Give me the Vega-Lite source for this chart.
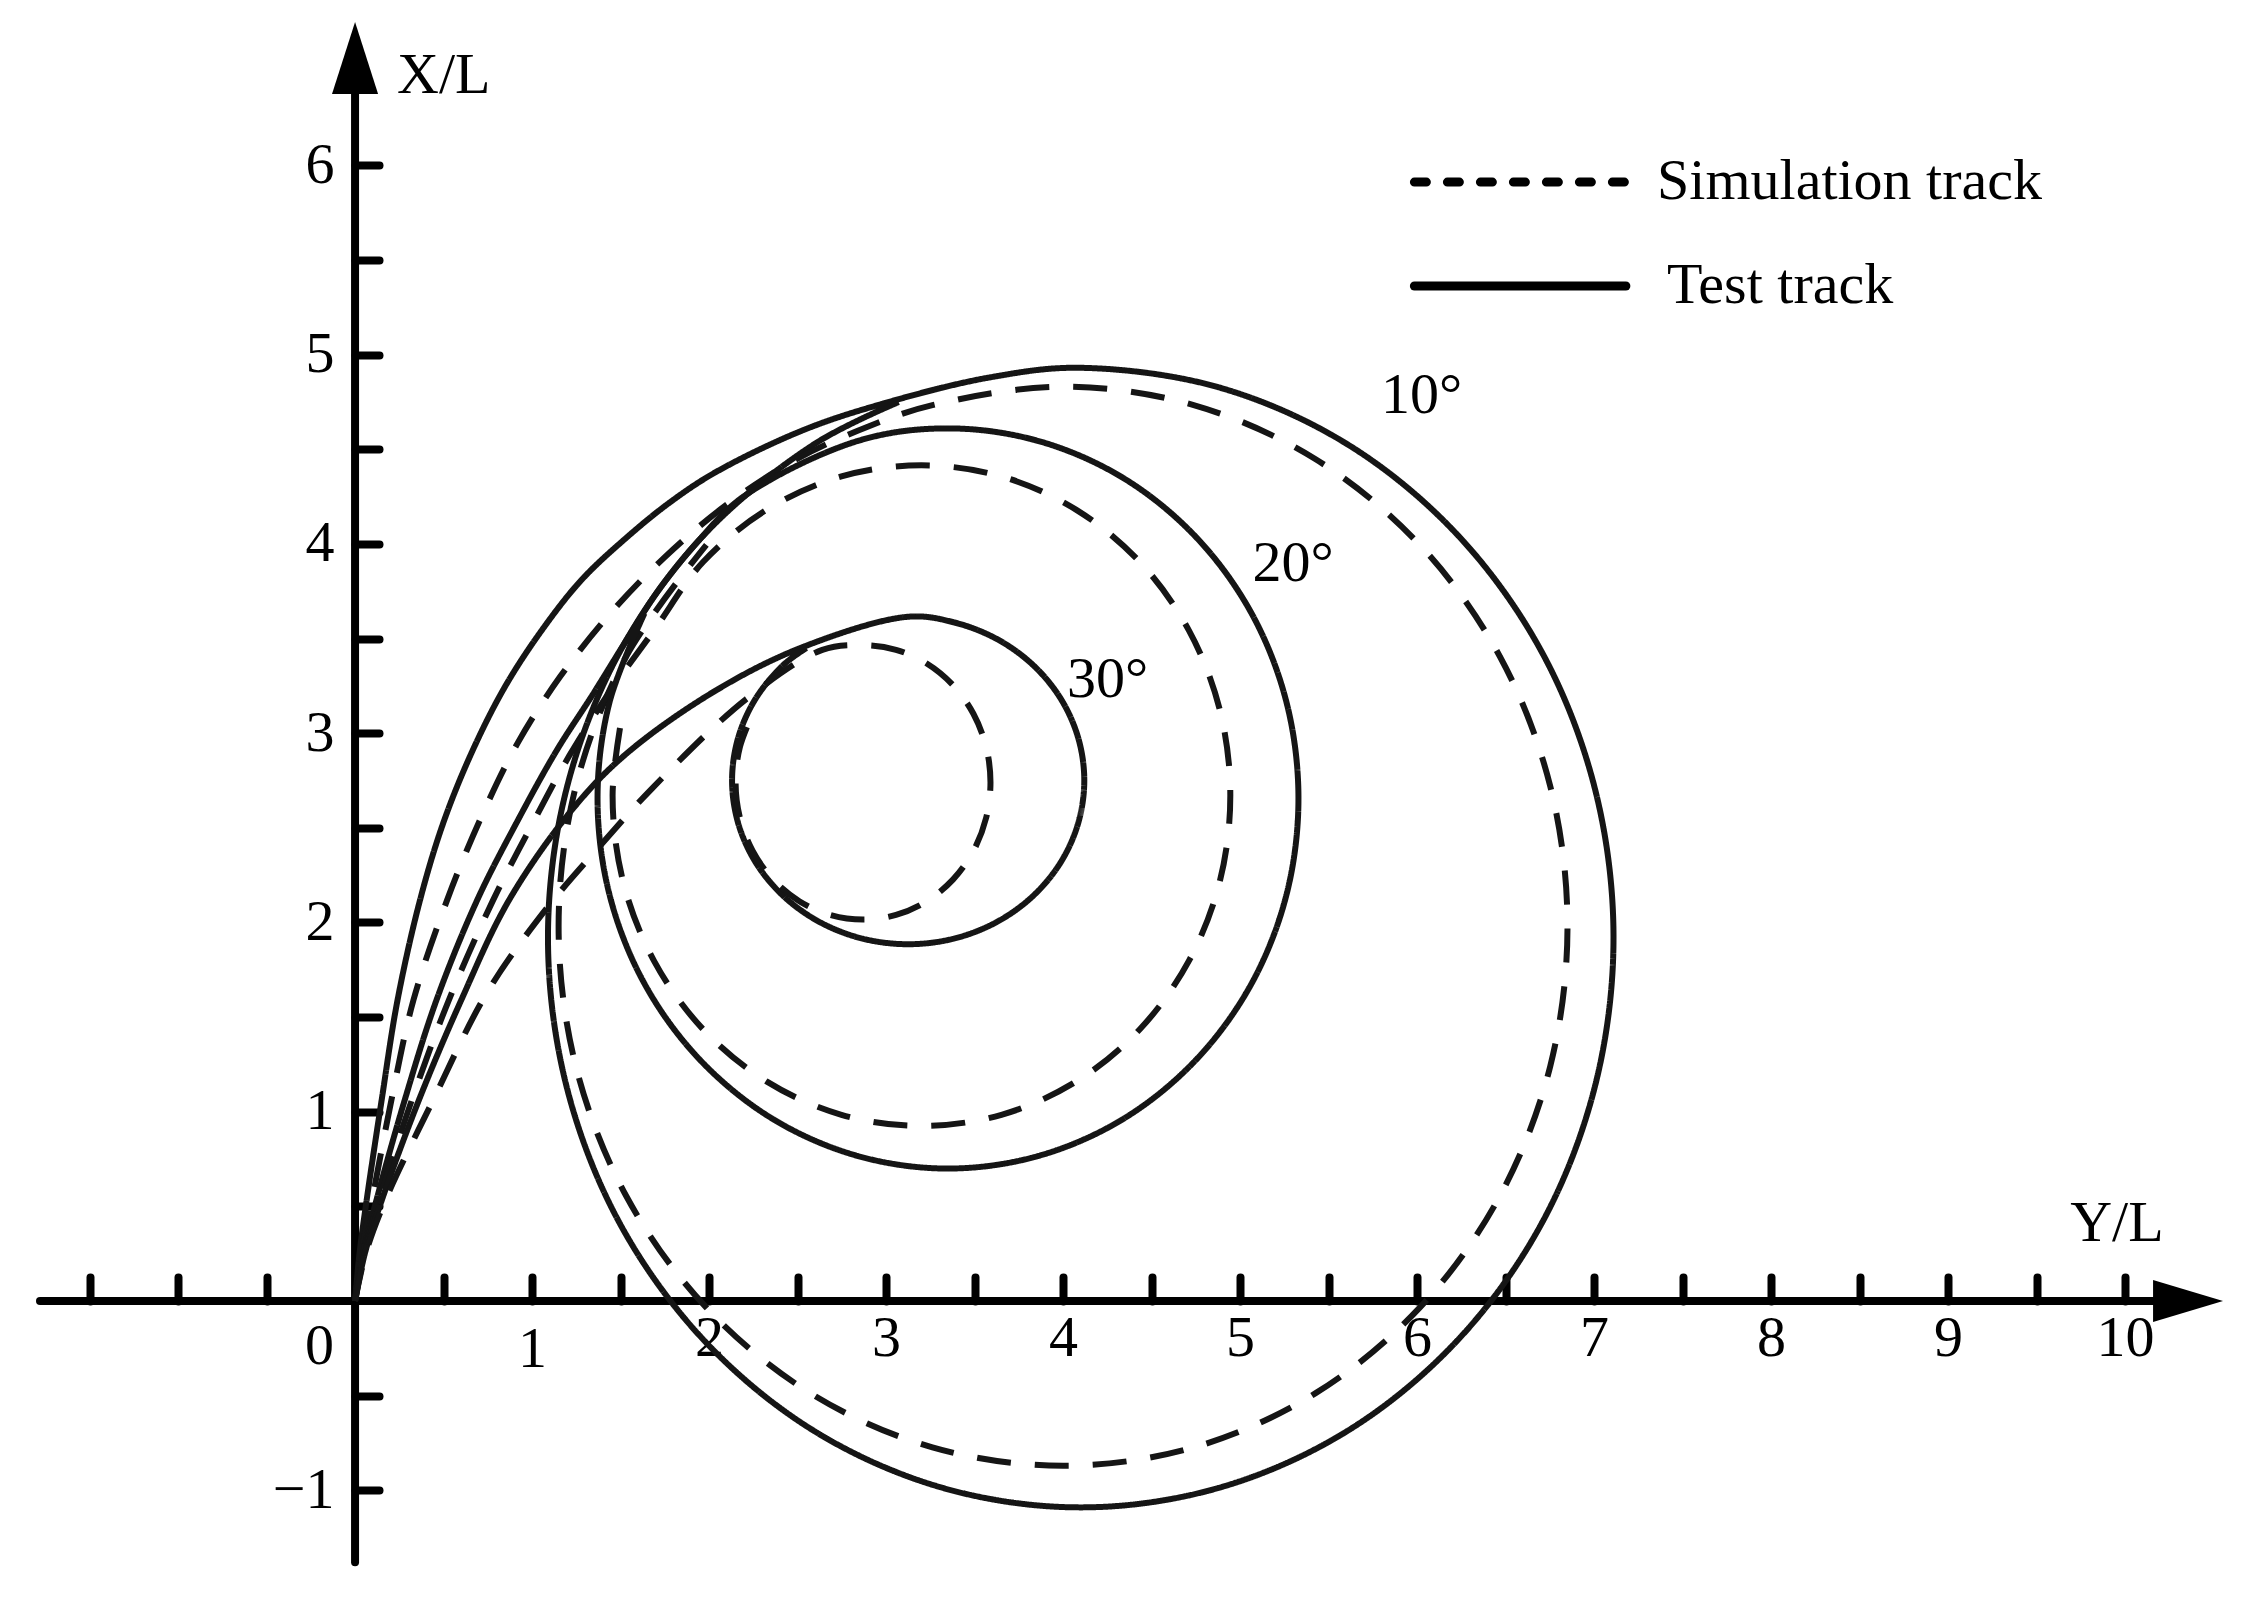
{
"$schema": "https://vega.github.io/schema/vega-lite/v6.json",
"width": 2253, "height": 1599, "padding": 0, "autosize": {"type": "none"},
"background": "white",
"config": {"view": {"stroke": null}, "font": "Liberation Serif"},
"datasets": {"tracks": [
{"g":"10T","track":"Test track","i":0,"x":0,"y":0},{"g":"10T","track":"Test track","i":1,"x":0.025,"y":0.25},{"g":"10T","track":"Test track","i":2,"x":0.065,"y":0.53},{"g":"10T","track":"Test track","i":3,"x":0.15,"y":1.06},{"g":"10T","track":"Test track","i":4,"x":0.24,"y":1.59},{"g":"10T","track":"Test track","i":5,"x":0.367,"y":2.118},{"g":"10T","track":"Test track","i":6,"x":0.5,"y":2.53},{"g":"10T","track":"Test track","i":7,"x":0.665,"y":2.91},{"g":"10T","track":"Test track","i":8,"x":0.85,"y":3.25},{"g":"10T","track":"Test track","i":9,"x":1.06,"y":3.55},{"g":"10T","track":"Test track","i":10,"x":1.28,"y":3.81},{"g":"10T","track":"Test track","i":11,"x":1.53,"y":4.03},{"g":"10T","track":"Test track","i":12,"x":1.78,"y":4.22},{"g":"10T","track":"Test track","i":13,"x":2.04,"y":4.38},{"g":"10T","track":"Test track","i":14,"x":2.53,"y":4.6},{"g":"10T","track":"Test track","i":15,"x":2.98,"y":4.74},{"g":"10T","track":"Test track","i":16,"x":3.59,"y":4.88},{"g":"10T","track":"Test track","i":17,"x":4.1,"y":4.93},{"g":"10T","track":"Test track","i":18,"x":4.879,"y":4.827},{"g":"10T","track":"Test track","i":19,"x":5.605,"y":4.527},{"g":"10T","track":"Test track","i":20,"x":6.228,"y":4.048},{"g":"10T","track":"Test track","i":21,"x":6.707,"y":3.425},{"g":"10T","track":"Test track","i":22,"x":7.007,"y":2.699},{"g":"10T","track":"Test track","i":23,"x":7.11,"y":1.92},{"g":"10T","track":"Test track","i":24,"x":7.007,"y":1.141},{"g":"10T","track":"Test track","i":25,"x":6.707,"y":0.415},{"g":"10T","track":"Test track","i":26,"x":6.228,"y":-0.208},{"g":"10T","track":"Test track","i":27,"x":5.605,"y":-0.687},{"g":"10T","track":"Test track","i":28,"x":4.879,"y":-0.987},{"g":"10T","track":"Test track","i":29,"x":4.1,"y":-1.09},{"g":"10T","track":"Test track","i":30,"x":3.321,"y":-0.987},{"g":"10T","track":"Test track","i":31,"x":2.595,"y":-0.687},{"g":"10T","track":"Test track","i":32,"x":1.972,"y":-0.208},{"g":"10T","track":"Test track","i":33,"x":1.493,"y":0.415},{"g":"10T","track":"Test track","i":34,"x":1.193,"y":1.141},{"g":"10T","track":"Test track","i":35,"x":1.09,"y":1.92},{"g":"10T","track":"Test track","i":36,"x":1.193,"y":2.699},{"g":"10T","track":"Test track","i":37,"x":1.493,"y":3.425},{"g":"10T","track":"Test track","i":38,"x":1.972,"y":4.048},{"g":"10T","track":"Test track","i":39,"x":2.595,"y":4.527},{"g":"10T","track":"Test track","i":40,"x":3.071,"y":4.749},
{"g":"10S","track":"Simulation track","i":0,"x":0,"y":0},{"g":"10S","track":"Simulation track","i":1,"x":0.035,"y":0.25},{"g":"10S","track":"Simulation track","i":2,"x":0.095,"y":0.53},{"g":"10S","track":"Simulation track","i":3,"x":0.205,"y":1.06},{"g":"10S","track":"Simulation track","i":4,"x":0.33,"y":1.59},{"g":"10S","track":"Simulation track","i":5,"x":0.52,"y":2.118},{"g":"10S","track":"Simulation track","i":6,"x":0.71,"y":2.55},{"g":"10S","track":"Simulation track","i":7,"x":0.92,"y":2.95},{"g":"10S","track":"Simulation track","i":8,"x":1.16,"y":3.3},{"g":"10S","track":"Simulation track","i":9,"x":1.44,"y":3.63},{"g":"10S","track":"Simulation track","i":10,"x":1.75,"y":3.93},{"g":"10S","track":"Simulation track","i":11,"x":2.09,"y":4.2},{"g":"10S","track":"Simulation track","i":12,"x":2.5,"y":4.45},{"g":"10S","track":"Simulation track","i":13,"x":2.9,"y":4.62},{"g":"10S","track":"Simulation track","i":14,"x":3.262,"y":4.733},{"g":"10S","track":"Simulation track","i":15,"x":4.0,"y":4.83},{"g":"10S","track":"Simulation track","i":16,"x":4.738,"y":4.733},{"g":"10S","track":"Simulation track","i":17,"x":5.425,"y":4.448},{"g":"10S","track":"Simulation track","i":18,"x":6.015,"y":3.995},{"g":"10S","track":"Simulation track","i":19,"x":6.468,"y":3.405},{"g":"10S","track":"Simulation track","i":20,"x":6.753,"y":2.718},{"g":"10S","track":"Simulation track","i":21,"x":6.85,"y":1.98},{"g":"10S","track":"Simulation track","i":22,"x":6.753,"y":1.242},{"g":"10S","track":"Simulation track","i":23,"x":6.468,"y":0.555},{"g":"10S","track":"Simulation track","i":24,"x":6.015,"y":-0.035},{"g":"10S","track":"Simulation track","i":25,"x":5.425,"y":-0.488},{"g":"10S","track":"Simulation track","i":26,"x":4.738,"y":-0.773},{"g":"10S","track":"Simulation track","i":27,"x":4.0,"y":-0.87},{"g":"10S","track":"Simulation track","i":28,"x":3.262,"y":-0.773},{"g":"10S","track":"Simulation track","i":29,"x":2.575,"y":-0.488},{"g":"10S","track":"Simulation track","i":30,"x":1.985,"y":-0.035},{"g":"10S","track":"Simulation track","i":31,"x":1.532,"y":0.555},{"g":"10S","track":"Simulation track","i":32,"x":1.247,"y":1.242},{"g":"10S","track":"Simulation track","i":33,"x":1.15,"y":1.98},{"g":"10S","track":"Simulation track","i":34,"x":1.247,"y":2.718},{"g":"10S","track":"Simulation track","i":35,"x":1.532,"y":3.405},{"g":"10S","track":"Simulation track","i":36,"x":1.985,"y":3.995},
{"g":"20T","track":"Test track","i":0,"x":0,"y":0},{"g":"20T","track":"Test track","i":1,"x":0.045,"y":0.25},{"g":"20T","track":"Test track","i":2,"x":0.12,"y":0.53},{"g":"20T","track":"Test track","i":3,"x":0.28,"y":1.06},{"g":"20T","track":"Test track","i":4,"x":0.46,"y":1.59},{"g":"20T","track":"Test track","i":5,"x":0.69,"y":2.118},{"g":"20T","track":"Test track","i":6,"x":0.92,"y":2.54},{"g":"20T","track":"Test track","i":7,"x":1.14,"y":2.91},{"g":"20T","track":"Test track","i":8,"x":1.34,"y":3.2},{"g":"20T","track":"Test track","i":9,"x":1.539,"y":3.5},{"g":"20T","track":"Test track","i":10,"x":1.718,"y":3.76},{"g":"20T","track":"Test track","i":11,"x":1.944,"y":4.02},{"g":"20T","track":"Test track","i":12,"x":2.195,"y":4.25},{"g":"20T","track":"Test track","i":13,"x":2.838,"y":4.543},{"g":"20T","track":"Test track","i":14,"x":3.35,"y":4.61},{"g":"20T","track":"Test track","i":15,"x":3.862,"y":4.543},{"g":"20T","track":"Test track","i":16,"x":4.34,"y":4.348},{"g":"20T","track":"Test track","i":17,"x":4.75,"y":4.037},{"g":"20T","track":"Test track","i":18,"x":5.065,"y":3.633},{"g":"20T","track":"Test track","i":19,"x":5.263,"y":3.161},{"g":"20T","track":"Test track","i":20,"x":5.33,"y":2.655},{"g":"20T","track":"Test track","i":21,"x":5.263,"y":2.149},{"g":"20T","track":"Test track","i":22,"x":5.065,"y":1.677},{"g":"20T","track":"Test track","i":23,"x":4.75,"y":1.273},{"g":"20T","track":"Test track","i":24,"x":4.34,"y":0.962},{"g":"20T","track":"Test track","i":25,"x":3.862,"y":0.767},{"g":"20T","track":"Test track","i":26,"x":3.35,"y":0.7},{"g":"20T","track":"Test track","i":27,"x":2.838,"y":0.767},{"g":"20T","track":"Test track","i":28,"x":2.36,"y":0.962},{"g":"20T","track":"Test track","i":29,"x":1.95,"y":1.273},{"g":"20T","track":"Test track","i":30,"x":1.635,"y":1.677},{"g":"20T","track":"Test track","i":31,"x":1.437,"y":2.149},{"g":"20T","track":"Test track","i":32,"x":1.37,"y":2.655},{"g":"20T","track":"Test track","i":33,"x":1.437,"y":3.161},{"g":"20T","track":"Test track","i":34,"x":1.635,"y":3.633},
{"g":"20S","track":"Simulation track","i":0,"x":0,"y":0},{"g":"20S","track":"Simulation track","i":1,"x":0.05,"y":0.25},{"g":"20S","track":"Simulation track","i":2,"x":0.135,"y":0.53},{"g":"20S","track":"Simulation track","i":3,"x":0.32,"y":1.06},{"g":"20S","track":"Simulation track","i":4,"x":0.53,"y":1.59},{"g":"20S","track":"Simulation track","i":5,"x":0.78,"y":2.118},{"g":"20S","track":"Simulation track","i":6,"x":0.99,"y":2.5},{"g":"20S","track":"Simulation track","i":7,"x":1.21,"y":2.88},{"g":"20S","track":"Simulation track","i":8,"x":1.44,"y":3.22},{"g":"20S","track":"Simulation track","i":9,"x":1.689,"y":3.543},{"g":"20S","track":"Simulation track","i":10,"x":1.966,"y":3.904},{"g":"20S","track":"Simulation track","i":11,"x":2.327,"y":4.181},{"g":"20S","track":"Simulation track","i":12,"x":2.748,"y":4.356},{"g":"20S","track":"Simulation track","i":13,"x":3.2,"y":4.415},{"g":"20S","track":"Simulation track","i":14,"x":3.652,"y":4.356},{"g":"20S","track":"Simulation track","i":15,"x":4.073,"y":4.181},{"g":"20S","track":"Simulation track","i":16,"x":4.434,"y":3.904},{"g":"20S","track":"Simulation track","i":17,"x":4.711,"y":3.543},{"g":"20S","track":"Simulation track","i":18,"x":4.886,"y":3.122},{"g":"20S","track":"Simulation track","i":19,"x":4.945,"y":2.67},{"g":"20S","track":"Simulation track","i":20,"x":4.886,"y":2.218},{"g":"20S","track":"Simulation track","i":21,"x":4.711,"y":1.797},{"g":"20S","track":"Simulation track","i":22,"x":4.434,"y":1.436},{"g":"20S","track":"Simulation track","i":23,"x":4.073,"y":1.159},{"g":"20S","track":"Simulation track","i":24,"x":3.652,"y":0.984},{"g":"20S","track":"Simulation track","i":25,"x":3.2,"y":0.925},{"g":"20S","track":"Simulation track","i":26,"x":2.748,"y":0.984},{"g":"20S","track":"Simulation track","i":27,"x":2.327,"y":1.159},{"g":"20S","track":"Simulation track","i":28,"x":1.966,"y":1.436},{"g":"20S","track":"Simulation track","i":29,"x":1.689,"y":1.797},{"g":"20S","track":"Simulation track","i":30,"x":1.514,"y":2.218},{"g":"20S","track":"Simulation track","i":31,"x":1.455,"y":2.67},{"g":"20S","track":"Simulation track","i":32,"x":1.514,"y":3.122},
{"g":"30T","track":"Test track","i":0,"x":0,"y":0},{"g":"30T","track":"Test track","i":1,"x":0.055,"y":0.25},{"g":"30T","track":"Test track","i":2,"x":0.15,"y":0.53},{"g":"30T","track":"Test track","i":3,"x":0.36,"y":1.06},{"g":"30T","track":"Test track","i":4,"x":0.6,"y":1.59},{"g":"30T","track":"Test track","i":5,"x":0.87,"y":2.118},{"g":"30T","track":"Test track","i":6,"x":1.23,"y":2.6},{"g":"30T","track":"Test track","i":7,"x":1.535,"y":2.893},{"g":"30T","track":"Test track","i":8,"x":2.043,"y":3.228},{"g":"30T","track":"Test track","i":9,"x":2.533,"y":3.456},{"g":"30T","track":"Test track","i":10,"x":3.125,"y":3.615},{"g":"30T","track":"Test track","i":11,"x":3.3825,"y":3.5855},{"g":"30T","track":"Test track","i":12,"x":3.6225,"y":3.4991},{"g":"30T","track":"Test track","i":13,"x":3.8286,"y":3.3616},{"g":"30T","track":"Test track","i":14,"x":3.9867,"y":3.1825},{"g":"30T","track":"Test track","i":15,"x":4.086,"y":2.9739},{"g":"30T","track":"Test track","i":16,"x":4.12,"y":2.75},{"g":"30T","track":"Test track","i":17,"x":4.086,"y":2.5261},{"g":"30T","track":"Test track","i":18,"x":3.9867,"y":2.3175},{"g":"30T","track":"Test track","i":19,"x":3.8286,"y":2.1384},{"g":"30T","track":"Test track","i":20,"x":3.6225,"y":2.0009},{"g":"30T","track":"Test track","i":21,"x":3.3825,"y":1.9145},{"g":"30T","track":"Test track","i":22,"x":3.125,"y":1.885},{"g":"30T","track":"Test track","i":23,"x":2.8675,"y":1.9145},{"g":"30T","track":"Test track","i":24,"x":2.6275,"y":2.0009},{"g":"30T","track":"Test track","i":25,"x":2.4214,"y":2.1384},{"g":"30T","track":"Test track","i":26,"x":2.2633,"y":2.3175},{"g":"30T","track":"Test track","i":27,"x":2.164,"y":2.5261},{"g":"30T","track":"Test track","i":28,"x":2.13,"y":2.75},{"g":"30T","track":"Test track","i":29,"x":2.164,"y":2.9739},{"g":"30T","track":"Test track","i":30,"x":2.2633,"y":3.1825},{"g":"30T","track":"Test track","i":31,"x":2.4214,"y":3.3616},{"g":"30T","track":"Test track","i":32,"x":2.55,"y":3.45},
{"g":"30S","track":"Simulation track","i":0,"x":0,"y":0},{"g":"30S","track":"Simulation track","i":1,"x":0.06,"y":0.25},{"g":"30S","track":"Simulation track","i":2,"x":0.17,"y":0.53},{"g":"30S","track":"Simulation track","i":3,"x":0.44,"y":1.06},{"g":"30S","track":"Simulation track","i":4,"x":0.744,"y":1.627},{"g":"30S","track":"Simulation track","i":5,"x":1.07,"y":2.06},{"g":"30S","track":"Simulation track","i":6,"x":1.38,"y":2.4},{"g":"30S","track":"Simulation track","i":7,"x":1.68,"y":2.71},{"g":"30S","track":"Simulation track","i":8,"x":2.21,"y":3.18},{"g":"30S","track":"Simulation track","i":9,"x":2.64,"y":3.44},{"g":"30S","track":"Simulation track","i":10,"x":2.87,"y":3.465},{"g":"30S","track":"Simulation track","i":11,"x":3.0563,"y":3.4403},{"g":"30S","track":"Simulation track","i":12,"x":3.23,"y":3.3679},{"g":"30S","track":"Simulation track","i":13,"x":3.3791,"y":3.2526},{"g":"30S","track":"Simulation track","i":14,"x":3.4935,"y":3.1025},{"g":"30S","track":"Simulation track","i":15,"x":3.5654,"y":2.9276},{"g":"30S","track":"Simulation track","i":16,"x":3.59,"y":2.74},{"g":"30S","track":"Simulation track","i":17,"x":3.5654,"y":2.5524},{"g":"30S","track":"Simulation track","i":18,"x":3.4935,"y":2.3775},{"g":"30S","track":"Simulation track","i":19,"x":3.3791,"y":2.2274},{"g":"30S","track":"Simulation track","i":20,"x":3.23,"y":2.1121},{"g":"30S","track":"Simulation track","i":21,"x":3.0563,"y":2.0397},{"g":"30S","track":"Simulation track","i":22,"x":2.87,"y":2.015},{"g":"30S","track":"Simulation track","i":23,"x":2.6837,"y":2.0397},{"g":"30S","track":"Simulation track","i":24,"x":2.51,"y":2.1121},{"g":"30S","track":"Simulation track","i":25,"x":2.3609,"y":2.2274},{"g":"30S","track":"Simulation track","i":26,"x":2.2465,"y":2.3775},{"g":"30S","track":"Simulation track","i":27,"x":2.1746,"y":2.5524},{"g":"30S","track":"Simulation track","i":28,"x":2.15,"y":2.74},{"g":"30S","track":"Simulation track","i":29,"x":2.1746,"y":2.9276},{"g":"30S","track":"Simulation track","i":30,"x":2.2465,"y":3.1025}
]},
"resolve": {"axis": {"x": "independent", "y": "independent"}},
"layer": [
{"data": {"values": [{}]},
 "mark": {"type": "rule", "strokeWidth": 8, "color": "black", "strokeCap": "round"},
 "encoding": {
  "x": {"datum": -1.78, "type": "quantitative", "scale": {"domain": [-2.006, 10.723], "nice": false, "zero": false},
        "axis": {"orient": "top", "offset": -1301, "domain": false, "labels": false, "grid": false, "ticks": true, "tickSize": 24, "tickWidth": 8, "tickColor": "black", "tickCap": "round", "title": null,
                 "values": [-1.5,-1,-0.5,0.5,1,1.5,2,2.5,3,3.5,4,4.5,5,5.5,6,6.5,7,7.5,8,8.5,9,9.5,10]}},
  "x2": {"datum": 10.17},
  "y": {"datum": 0, "type": "quantitative", "scale": {"domain": [-1.574, 6.873], "nice": false, "zero": false},
        "axis": {"orient": "right", "offset": -1898, "domain": false, "labels": false, "grid": false, "ticks": true, "tickSize": 24, "tickWidth": 8, "tickColor": "black", "tickCap": "round", "title": null,
                 "values": [-1,-0.5,0.5,1,1.5,2,2.5,3,3.5,4,4.5,5,5.5,6]}}
 }},
{"data": {"values": [{}]},
 "mark": {"type": "rule", "strokeWidth": 8, "color": "black", "strokeCap": "round"},
 "encoding": {
  "x": {"datum": 0, "type": "quantitative", "scale": {"domain": [-2.006, 10.723], "nice": false, "zero": false},
        "axis": {"orient": "bottom", "offset": -298, "domain": false, "ticks": false, "tickSize": 0, "grid": false, "title": null,
                 "values": [0,1,2,3,4,5,6,7,8,9,10], "labelFontSize": 58, "labelFont": "Liberation Serif", "labelColor": "black", "labelBaseline": "middle",
                 "labelPadding": {"condition": [{"test": "datum.value == 0", "value": 45}, {"test": "datum.value == 1", "value": 48}], "value": 37},
                 "labelOffset": {"condition": {"test": "datum.value == 0", "value": -36}, "value": 0},
                 "labelFlush": false, "labelOverlap": false, "labelBound": false}},
  "y": {"datum": -1.38, "type": "quantitative", "scale": {"domain": [-1.574, 6.873], "nice": false, "zero": false},
        "axis": {"orient": "left", "offset": -355, "domain": false, "ticks": false, "tickSize": 0, "grid": false, "title": null,
                 "values": [-1,1,2,3,4,5,6], "labelFontSize": 58, "labelFont": "Liberation Serif", "labelColor": "black", "labelPadding": 21,
                 "labelFlush": false, "labelOverlap": false, "labelBound": false}},
  "y2": {"datum": 6.38}
 }},
{"data": {"name": "tracks"},
 "mark": {"type": "line", "interpolate": "catmull-rom", "strokeWidth": 6, "color": "#151515"},
 "encoding": {
  "x": {"field": "x", "type": "quantitative", "scale": {"domain": [-2.006, 10.723], "nice": false, "zero": false}, "axis": null},
  "y": {"field": "y", "type": "quantitative", "scale": {"domain": [-1.574, 6.873], "nice": false, "zero": false}, "axis": null},
  "detail": {"field": "g", "type": "nominal"},
  "order": {"field": "i", "type": "quantitative"},
  "strokeDash": {"field": "track", "type": "nominal", "scale": {"domain": ["Simulation track", "Test track"], "range": [[34, 24], [1, 0]]}, "legend": null}
 }},
{"data": {"values": [{}]},
 "mark": {"type": "point", "shape": "M0,-1L0.64,1L-0.64,1Z", "size": 5184, "filled": true, "color": "black", "opacity": 1, "strokeWidth": 0},
 "encoding": {"x": {"datum": 0, "type": "quantitative", "axis": null}, "y": {"datum": 6.566, "type": "quantitative", "axis": null}}},
{"data": {"values": [{}]},
 "mark": {"type": "point", "shape": "M1,0L-1,-0.6L-1,0.6Z", "size": 4900, "filled": true, "color": "black", "opacity": 1, "strokeWidth": 0},
 "encoding": {"x": {"datum": 10.356, "type": "quantitative", "axis": null}, "y": {"datum": 0, "type": "quantitative", "axis": null}}},
{"data": {"values": [{}]},
 "mark": {"type": "rule", "strokeWidth": 9, "color": "black", "strokeCap": "round", "strokeDash": [12, 21]},
 "encoding": {"x": {"datum": 5.985, "type": "quantitative", "axis": null}, "x2": {"datum": 7.18}, "y": {"datum": 5.911, "type": "quantitative", "axis": null}}},
{"data": {"values": [{}]},
 "mark": {"type": "rule", "strokeWidth": 9, "color": "black", "strokeCap": "round"},
 "encoding": {"x": {"datum": 5.985, "type": "quantitative", "axis": null}, "x2": {"datum": 7.18}, "y": {"datum": 5.362, "type": "quantitative", "axis": null}}},
{"data": {"values": [{}]},
 "mark": {"type": "text", "text": "Simulation track", "font": "Liberation Serif", "fontSize": 58, "align": "left", "baseline": "middle", "color": "black"},
 "encoding": {"x": {"datum": 7.356, "type": "quantitative", "axis": null}, "y": {"datum": 5.911, "type": "quantitative", "axis": null}}},
{"data": {"values": [{}]},
 "mark": {"type": "text", "text": "Test track", "font": "Liberation Serif", "fontSize": 58, "align": "left", "baseline": "middle", "color": "black"},
 "encoding": {"x": {"datum": 7.412, "type": "quantitative", "axis": null}, "y": {"datum": 5.362, "type": "quantitative", "axis": null}}},
{"data": {"values": [{}]},
 "mark": {"type": "text", "text": "X/L", "font": "Liberation Serif", "fontSize": 58, "align": "left", "baseline": "middle", "color": "black"},
 "encoding": {"x": {"datum": 0.237, "type": "quantitative", "axis": null}, "y": {"datum": 6.471, "type": "quantitative", "axis": null}}},
{"data": {"values": [{}]},
 "mark": {"type": "text", "text": "Y/L", "font": "Liberation Serif", "fontSize": 58, "align": "left", "baseline": "middle", "color": "black"},
 "encoding": {"x": {"datum": 9.69, "type": "quantitative", "axis": null}, "y": {"datum": 0.407, "type": "quantitative", "axis": null}}},
{"data": {"values": [{}]},
 "mark": {"type": "text", "text": "10°", "font": "Liberation Serif", "fontSize": 58, "align": "left", "baseline": "middle", "color": "black"},
 "encoding": {"x": {"datum": 5.797, "type": "quantitative", "axis": null}, "y": {"datum": 4.78, "type": "quantitative", "axis": null}}},
{"data": {"values": [{}]},
 "mark": {"type": "text", "text": "20°", "font": "Liberation Serif", "fontSize": 58, "align": "left", "baseline": "middle", "color": "black"},
 "encoding": {"x": {"datum": 5.07, "type": "quantitative", "axis": null}, "y": {"datum": 3.896, "type": "quantitative", "axis": null}}},
{"data": {"values": [{}]},
 "mark": {"type": "text", "text": "30°", "font": "Liberation Serif", "fontSize": 58, "align": "left", "baseline": "middle", "color": "black"},
 "encoding": {"x": {"datum": 4.023, "type": "quantitative", "axis": null}, "y": {"datum": 3.283, "type": "quantitative", "axis": null}}}
]
}
